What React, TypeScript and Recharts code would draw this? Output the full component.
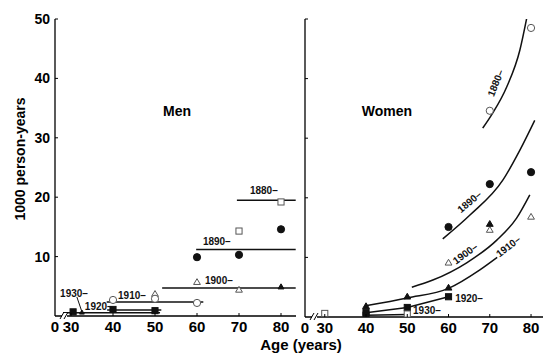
import React from 'react';
import { ComposedChart, Line, Scatter, XAxis, YAxis } from 'recharts';

const FONT = "'Liberation Sans', Arial, Helvetica, sans-serif";

// axis ticks
const menAgeTicks = [26.19, 30, 40, 50, 60, 70, 80];
const womenAgeTicks = [25.21, 30, 40, 50, 60, 70, 80];
const valueTicks = [10, 20, 30, 40, 50];

// ---------- Men: observed rates ----------
const men1880Obs = [{ age: 70, v: 14.3 }, { age: 80, v: 19.2 }];
const men1890Obs = [{ age: 60, v: 9.9 }, { age: 70, v: 10.3 }, { age: 80, v: 14.6 }];
const men1900Obs = [{ age: 50, v: 3.7 }, { age: 60, v: 5.7 }, { age: 70, v: 4.4 }];
const men1900ObsFilled = [{ age: 80, v: 4.9 }];
const men1910Obs = [{ age: 40, v: 2.7 }, { age: 50, v: 2.9 }, { age: 60, v: 2.2 }];
const men1920Obs = [{ age: 30.5, v: 0.7 }, { age: 40, v: 1.1 }, { age: 50, v: 0.9 }];
const men1930Obs = [{ age: 32.6, v: 0.6 }];

// ---------- Men: fitted cohort levels ----------
const men1880Fit = [{ age: 69.5, v: 19.5 }, { age: 83.5, v: 19.5 }];
const men1890Fit = [{ age: 59.8, v: 11.2 }, { age: 83.5, v: 11.2 }];
const men1900Fit = [{ age: 51.7, v: 4.7 }, { age: 83.5, v: 4.7 }];
const men1910Fit = [{ age: 38.5, v: 2.35 }, { age: 61.5, v: 2.35 }];
const men1920Fit = [{ age: 38.6, v: 1.0 }, { age: 51.5, v: 1.0 }];
const men1930Fit = [{ age: 28.1, v: 0.55 }, { age: 51.2, v: 0.55 }];
const men1930Leader = [{ age: 31.4, v: 3.2 }, { age: 32.6, v: 0.7 }];

const menLabels = [
  { age: 72.6, v: 21.2, text: '1880–', angle: 0 },
  { age: 61.4, v: 12.6, text: '1890–', angle: 0 },
  { age: 61.9, v: 6.05, text: '1900–', angle: 0 },
  { age: 41.2, v: 3.6, text: '1910–', angle: 0 },
  { age: 33.3, v: 1.75, text: '1920–', angle: 0 },
  { age: 27.4, v: 3.8, text: '1930–', angle: 0 },
];

// ---------- Women: observed rates ----------
const women1880Obs = [{ age: 70, v: 34.6 }, { age: 80, v: 48.5 }];
const women1890Obs = [{ age: 60, v: 15.1 }, { age: 70, v: 22.3 }, { age: 80, v: 24.3 }];
const women1900Obs = [{ age: 60, v: 9.1 }, { age: 70, v: 14.6 }, { age: 80, v: 16.8 }];
const women1910Obs = [{ age: 40, v: 1.8 }, { age: 50, v: 3.4 }, { age: 60, v: 4.9 }, { age: 70, v: 15.6 }];
const women1920Obs = [{ age: 40, v: 0.8 }, { age: 50, v: 1.6 }, { age: 60, v: 3.4 }, { age: 40, v: 0.3 }];
const women1930Obs = [{ age: 30, v: 0.6 }, { age: 50, v: 0.5 }];

// ---------- Women: fitted cohort curves ----------
const women1880Fit = [
  { age: 68.3, v: 31.7 }, { age: 70.7, v: 34.2 }, { age: 74.1, v: 38.6 },
  { age: 77.3, v: 44.8 }, { age: 79.0, v: 50.3 },
];
const women1890Fit = [
  { age: 58.6, v: 13.1 }, { age: 65.2, v: 17.1 }, { age: 73.2, v: 23.0 },
  { age: 77.3, v: 28.0 }, { age: 80.9, v: 33.0 },
];
const women1900Fit = [
  { age: 51.1, v: 5.0 }, { age: 56.2, v: 6.2 }, { age: 64.4, v: 9.1 },
  { age: 71.7, v: 12.9 }, { age: 76.5, v: 16.6 }, { age: 79.7, v: 20.5 },
];
const women1910Fit = [
  { age: 39.9, v: 1.9 }, { age: 50, v: 3.2 }, { age: 60, v: 4.8 },
  { age: 67.6, v: 7.9 }, { age: 71.8, v: 10.0 },
];
const women1920Fit = [{ age: 40, v: 0.7 }, { age: 50, v: 1.6 }, { age: 60, v: 3.4 }];
const women1930Fit = [{ age: 40, v: 0.3 }, { age: 50, v: 0.4 }];

const womenLabels = [
  { age: 71.3, v: 39.3, text: '1880–', angle: -68, anchor: 'middle' },
  { age: 65.0, v: 19.4, text: '1890–', angle: -40, anchor: 'middle' },
  { age: 64.0, v: 10.7, text: '1900–', angle: -36, anchor: 'middle' },
  { age: 74.4, v: 11.9, text: '1910–', angle: -38, anchor: 'middle' },
  { age: 61.6, v: 3.2, text: '1920–', angle: 0, anchor: 'start' },
  { age: 51.4, v: 1.2, text: '1930–', angle: 0, anchor: 'start' },
];

// ---------- marker shapes ----------
type Kind = 'circle' | 'square' | 'triangle';
const marker = (kind: Kind, filled: boolean, size = 3.4) => (p: any) => {
  const { cx, cy } = p;
  if (cx == null || cy == null) return <g />;
  const fill = filled ? '#111' : '#fff';
  const stroke = filled ? '#111' : '#555';
  if (kind === 'circle')
    return <circle cx={cx} cy={cy} r={size} fill={fill} stroke={stroke} strokeWidth={1} />;
  if (kind === 'square')
    return <rect x={cx - size * 0.9} y={cy - size * 0.9} width={size * 1.8} height={size * 1.8} fill={fill} stroke={stroke} strokeWidth={1} />;
  const h = size * 1.7;
  return (
    <polygon
      points={`${cx},${cy - h * 0.6} ${cx - size},${cy + h * 0.4} ${cx + size},${cy + h * 0.4}`}
      fill={fill}
      stroke={stroke}
      strokeWidth={1}
    />
  );
};

const labelShape = (p: any) => {
  const { cx, cy, payload } = p;
  if (cx == null || cy == null) return <g />;
  const anchor = payload.anchor || 'start';
  return (
    <text
      x={cx}
      y={cy}
      dy={4}
      textAnchor={anchor}
      fontSize={10}
      fontWeight="bold"
      fontFamily={FONT}
      fill="#111"
      transform={payload.angle ? `rotate(${payload.angle} ${cx} ${cy})` : undefined}
    >
      {payload.text}
    </text>
  );
};

const XTick = (props: any) => {
  const { x, y, payload } = props;
  const zero = payload.value < 30;
  return (
    <g>
      {!zero && <line x1={x} x2={x} y1={y} y2={y - 3} stroke="#000" strokeWidth={1} />}
      <text x={x} y={y + 16} textAnchor="middle" fontSize={15} fontWeight="bold" fontFamily={FONT} fill="#000">
        {zero ? '0' : payload.value}
      </text>
    </g>
  );
};

const YTickLabelled = (props: any) => {
  const { x, y, payload } = props;
  return (
    <g>
      <line x1={x} x2={x + 3} y1={y} y2={y} stroke="#000" strokeWidth={1} />
      <text x={x - 5} y={y + 5} textAnchor="end" fontSize={14} fontWeight="bold" fontFamily={FONT} fill="#000">
        {payload.value}
      </text>
    </g>
  );
};

const YTickPlain = (props: any) => {
  const { x, y } = props;
  return <line x1={x} x2={x + 3} y1={y} y2={y} stroke="#000" strokeWidth={1} />;
};

const lineProps = {
  dataKey: 'v',
  stroke: '#111',
  strokeWidth: 1.5,
  dot: false,
  activeDot: false,
  isAnimationActive: false,
  legendType: 'none' as const,
};

export default function App() {
  return (
    <div style={{ position: 'absolute', left: 0, top: 0, width: 559, height: 360, background: '#fff' }}>
      {/* Men */}
      <div style={{ position: 'absolute', left: 0, top: 0 }}>
        <ComposedChart width={300} height={360} margin={{ top: 19, right: 4, bottom: 14, left: 15 }}>
          <XAxis
            type="number"
            dataKey="age"
            domain={[26.19, 83.57]}
            ticks={menAgeTicks}
            allowDataOverflow
            tickSize={0}
            tickMargin={0}
            tick={<XTick />}
            height={30}
            stroke="#000"
            strokeWidth={1.3}
            interval={0}
          />
          <YAxis
            type="number"
            dataKey="v"
            domain={[0, 50]}
            ticks={valueTicks}
            allowDataOverflow
            tickSize={0}
            tickMargin={0}
            tick={<YTickLabelled />}
            width={40}
            stroke="#000"
            strokeWidth={1.3}
            interval={0}
          />
          <Line {...lineProps} type="linear" data={men1880Fit} />
          <Line {...lineProps} type="linear" data={men1890Fit} />
          <Line {...lineProps} type="linear" data={men1900Fit} />
          <Line {...lineProps} type="linear" data={men1910Fit} />
          <Line {...lineProps} type="linear" data={men1920Fit} />
          <Line {...lineProps} type="linear" data={men1930Fit} />
          <Line {...lineProps} type="linear" strokeWidth={1} data={men1930Leader} />
          <Scatter data={men1880Obs} shape={marker('square', false)} isAnimationActive={false} />
          <Scatter data={men1890Obs} shape={marker('circle', true, 3.6)} isAnimationActive={false} />
          <Scatter data={men1900Obs} shape={marker('triangle', false)} isAnimationActive={false} />
          <Scatter data={men1900ObsFilled} shape={marker('triangle', true, 3)} isAnimationActive={false} />
          <Scatter data={men1910Obs} shape={marker('circle', false, 3.6)} isAnimationActive={false} />
          <Scatter data={men1920Obs} shape={marker('square', true)} isAnimationActive={false} />
          <Scatter data={men1930Obs} shape={marker('triangle', true, 2.4)} isAnimationActive={false} />
          <Scatter data={menLabels} shape={labelShape} isAnimationActive={false} />
        </ComposedChart>
      </div>

      {/* Women */}
      <div style={{ position: 'absolute', left: 290, top: 0 }}>
        <ComposedChart width={269} height={360} margin={{ top: 19, right: 16, bottom: 13, left: 5 }}>
          <XAxis
            type="number"
            dataKey="age"
            domain={[25.21, 82.9]}
            ticks={womenAgeTicks}
            allowDataOverflow
            tickSize={0}
            tickMargin={0}
            tick={<XTick />}
            height={30}
            stroke="#000"
            strokeWidth={1.3}
            interval={0}
          />
          <YAxis
            type="number"
            dataKey="v"
            domain={[0, 50]}
            ticks={valueTicks}
            allowDataOverflow
            tickSize={0}
            tickMargin={0}
            tick={<YTickPlain />}
            width={10}
            stroke="#000"
            strokeWidth={1.3}
            interval={0}
          />
          <Line {...lineProps} type="monotone" data={women1880Fit} />
          <Line {...lineProps} type="monotone" data={women1890Fit} />
          <Line {...lineProps} type="monotone" data={women1900Fit} />
          <Line {...lineProps} type="monotone" data={women1910Fit} />
          <Line {...lineProps} type="linear" data={women1920Fit} />
          <Line {...lineProps} type="linear" data={women1930Fit} />
          <Scatter data={women1880Obs} shape={marker('circle', false, 3.6)} isAnimationActive={false} />
          <Scatter data={women1890Obs} shape={marker('circle', true, 3.6)} isAnimationActive={false} />
          <Scatter data={women1900Obs} shape={marker('triangle', false)} isAnimationActive={false} />
          <Scatter data={women1910Obs} shape={marker('triangle', true)} isAnimationActive={false} />
          <Scatter data={women1920Obs} shape={marker('square', true)} isAnimationActive={false} />
          <Scatter data={women1930Obs} shape={marker('square', false)} isAnimationActive={false} />
          <Scatter data={womenLabels} shape={labelShape} isAnimationActive={false} />
        </ComposedChart>
      </div>

      {/* titles and axis-break marks */}
      <svg width={559} height={360} style={{ position: 'absolute', left: 0, top: 0, pointerEvents: 'none' }}>
        <g fontFamily={FONT} fontWeight="bold" fill="#000">
          <text x={177} y={116} textAnchor="middle" fontSize={14}>Men</text>
          <text x={387} y={116} textAnchor="middle" fontSize={14}>Women</text>
          <text x={301} y={350} textAnchor="middle" fontSize={15}>Age (years)</text>
          <text transform="translate(25 159) rotate(-90)" textAnchor="middle" fontSize={14}>1000 person-years</text>
        </g>
        <g stroke="#000" strokeWidth={1}>
          <rect x={62} y={313} width={5} height={6} fill="#fff" stroke="none" />
          <line x1={60} y1={319} x2={64} y2={312} />
          <line x1={64} y1={319} x2={68} y2={312} />
          <rect x={312} y={314} width={5} height={6} fill="#fff" stroke="none" />
          <line x1={310} y1={320} x2={314} y2={313} />
          <line x1={314} y1={320} x2={318} y2={313} />
        </g>
      </svg>
    </div>
  );
}
